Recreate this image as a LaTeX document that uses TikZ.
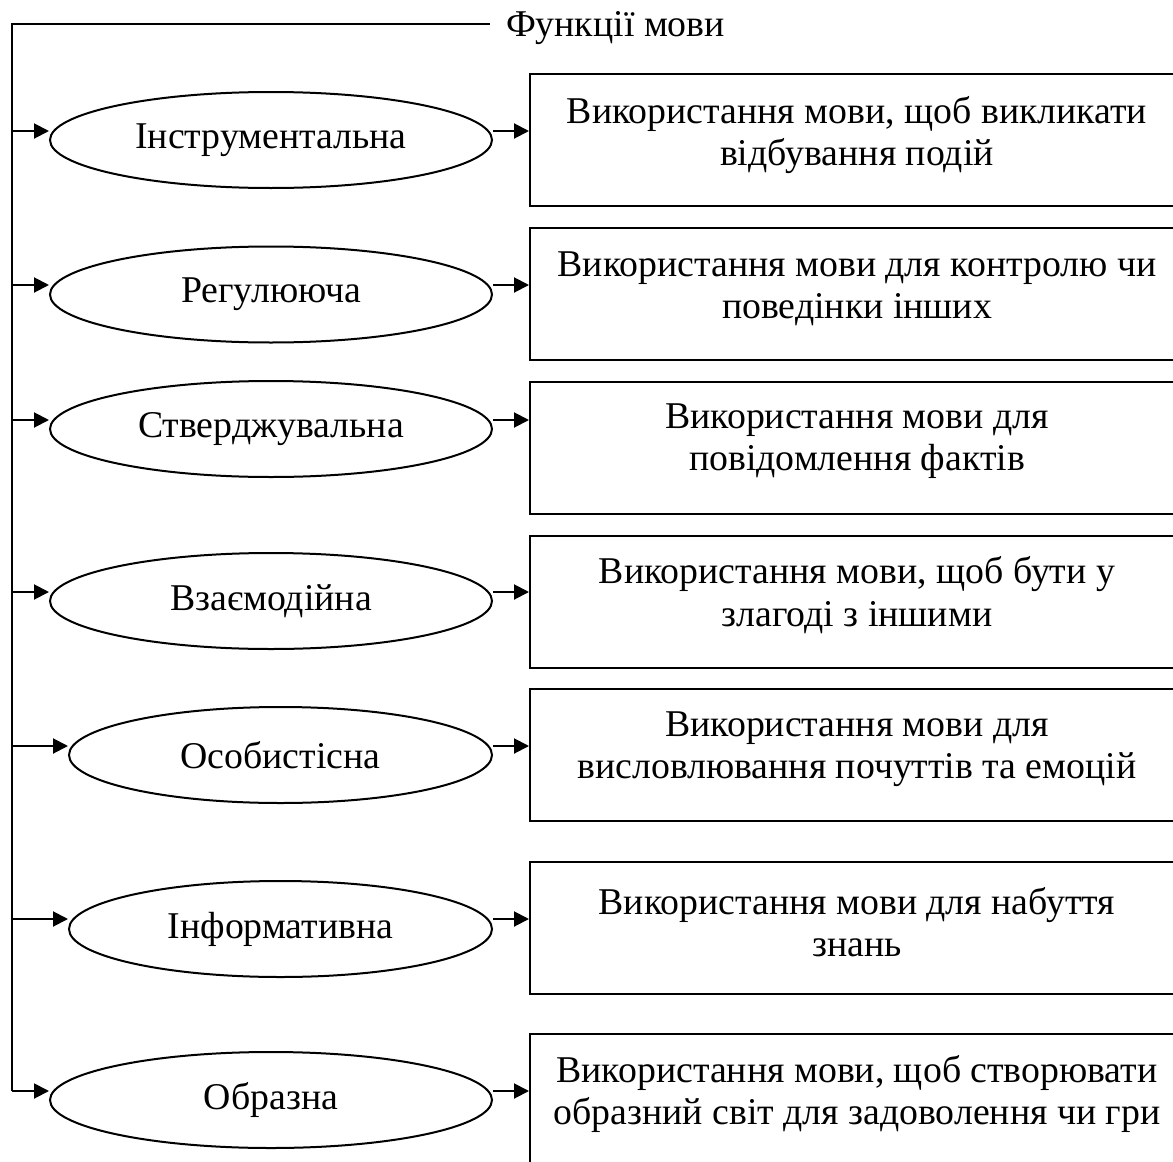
\documentclass[tikz,border=0pt]{standalone}
\usepackage{fontspec}
\setmainfont{Liberation Serif}
\usetikzlibrary{shapes.geometric,arrows.meta}
\begin{document}
\begin{tikzpicture}[x=1pt,y=-1pt,line width=2pt,
  every node/.style={font=\fontsize{37.8}{42.5}\selectfont},
  func/.style={draw,ellipse,minimum width=442pt,minimum height=96pt,inner sep=0pt},
  funcn/.style={func,minimum width=423pt},
  descbox/.style={draw,rectangle,minimum width=656pt,minimum height=132pt,inner sep=0pt,anchor=north west},
  desctext/.style={align=center,inner sep=0pt},
  conn/.style={-{Triangle[length=15pt,width=15pt]}}]
\clip (0,0) rectangle (1173,1162);
% title
\node[anchor=base west,inner sep=0pt] (title) at (505,36) {Функції мови};
\coordinate (titlel) at (490,24);
\coordinate (corner) at (12,24);
% spine points
\coordinate (s1) at (12,131);
\coordinate (s2) at (12,285);
\coordinate (s3) at (12,420);
\coordinate (s4) at (12,592);
\coordinate (s5) at (12,746);
\coordinate (s6) at (12,919);
\coordinate (s7) at (12,1091);
% ellipses
\node[func]  (e1) at (271,140)   {Інструментальна};
\node[func]  (e2) at (271,294.5) {Регулююча};
\node[func]  (e3) at (271,429)   {Стверджувальна};
\node[func]  (e4) at (271,601)   {Взаємодійна};
\node[funcn] (e5) at (280.5,755) {Особистісна};
\node[funcn] (e6) at (280.5,929) {Інформативна};
\node[func]  (e7) at (271,1100)  {Образна};
% boxes
\node[descbox] (b1) at (529,73)   {};
\node[descbox] (b2) at (529,227)  {};
\node[descbox] (b3) at (529,381)  {};
\node[descbox] (b4) at (529,535)  {};
\node[descbox] (b5) at (529,688)  {};
\node[descbox] (b6) at (529,861)  {};
\node[descbox] (b7) at (529,1033) {};
% box texts
\node[desctext] (t1) at (857,135)  {Використання мови, щоб викликати\\відбування подій};
\node[desctext] (t2) at (857,289)  {Використання мови для контролю чи\\поведінки інших};
\node[desctext] (t3) at (857,441)  {Використання мови для\\повідомлення фактів};
\node[desctext] (t4) at (857,595)  {Використання мови, щоб бути у\\злагоді з іншими};
\node[desctext] (t5) at (857,749)  {Використання мови для\\висловлювання почуттів та емоцій};
\node[desctext] (t6) at (857,922)  {Використання мови для набуття\\знань};
\node[desctext] (t7) at (857,1094) {Використання мови, щоб створювати\\образний світ для задоволення чи гри};
% spine
\draw (titlel) -- (corner) -- (s7);
% arrows
\foreach \i in {1,...,7}{
  \draw[conn] (s\i) -- (s\i -| e\i.west);
  \draw[conn] (e\i.east |- s\i) -- (b\i.west |- s\i);
}
\end{tikzpicture}
\end{document}
